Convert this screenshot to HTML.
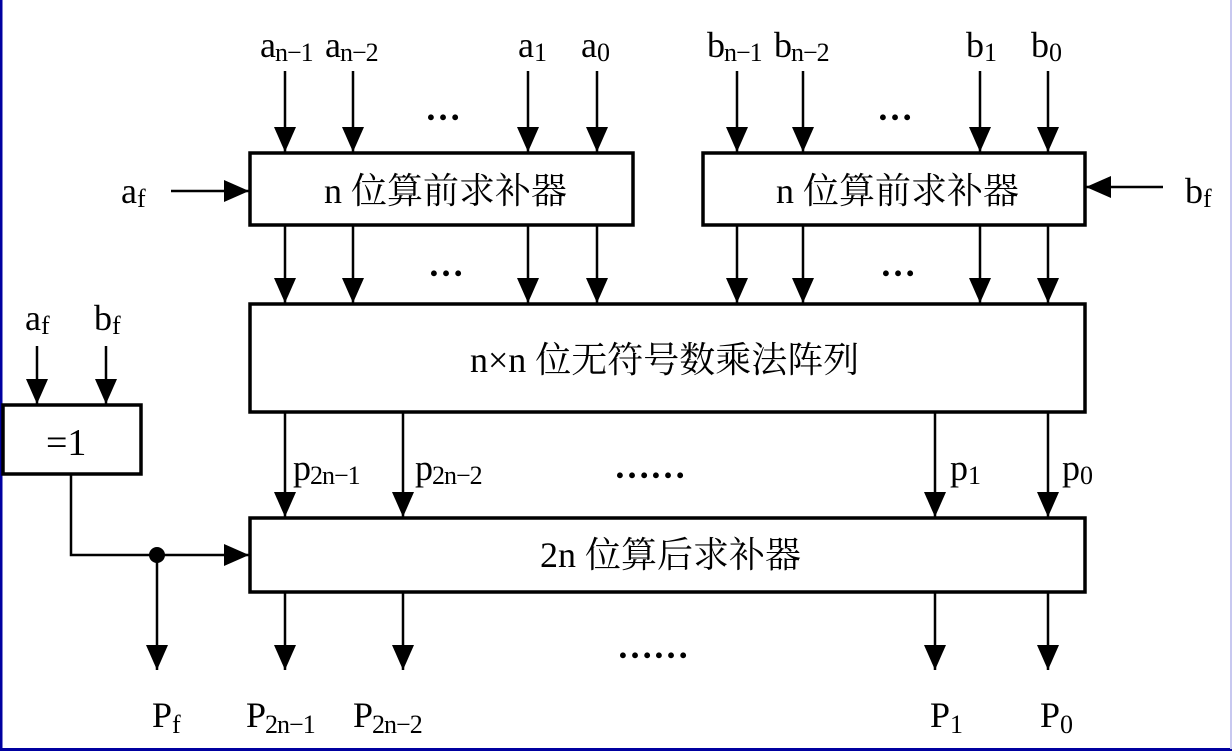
<!DOCTYPE html>
<html><head><meta charset="utf-8"><style>
html,body{margin:0;padding:0;background:#fff}
svg{display:block}
text{font-family:"Liberation Serif","Noto Serif CJK SC",serif;fill:#000}
</style></head><body>
<svg width="1232" height="751" viewBox="0 0 1232 751" xmlns="http://www.w3.org/2000/svg">
<defs>
<marker id="ar" markerUnits="userSpaceOnUse" markerWidth="26" markerHeight="24" refX="25" refY="11" orient="auto">
<path d="M0,0 L25,11 L0,22 Z" fill="#000"/>
</marker>
</defs>
<rect x="0" y="0" width="1232" height="751" fill="#fff"/>
<line x1="1" y1="0" x2="1" y2="751" stroke="#0000a0" stroke-width="3"/>
<line x1="0" y1="749.5" x2="1232" y2="749.5" stroke="#0000a0" stroke-width="3"/>
<line x1="1231" y1="0" x2="1231" y2="749" stroke="#c8c8f0" stroke-width="2"/>

<g stroke="#000" stroke-width="3.5" fill="none">
<rect x="250" y="153" width="383" height="72"/>
<rect x="703" y="153" width="382" height="72"/>
<rect x="250" y="304" width="835" height="108"/>
<rect x="250" y="518" width="835" height="74"/>
<rect x="3" y="405" width="138" height="69"/>
</g>
<g stroke="#000" stroke-width="2.5" marker-end="url(#ar)">
<line x1="285" y1="71" x2="285" y2="152"/>
<line x1="353" y1="71" x2="353" y2="152"/>
<line x1="528" y1="71" x2="528" y2="152"/>
<line x1="597" y1="71" x2="597" y2="152"/>
<line x1="737" y1="71" x2="737" y2="152"/>
<line x1="803" y1="71" x2="803" y2="152"/>
<line x1="980" y1="71" x2="980" y2="152"/>
<line x1="1048" y1="71" x2="1048" y2="152"/>
<line x1="285" y1="226" x2="285" y2="303"/>
<line x1="353" y1="226" x2="353" y2="303"/>
<line x1="528" y1="226" x2="528" y2="303"/>
<line x1="597" y1="226" x2="597" y2="303"/>
<line x1="737" y1="226" x2="737" y2="303"/>
<line x1="803" y1="226" x2="803" y2="303"/>
<line x1="980" y1="226" x2="980" y2="303"/>
<line x1="1048" y1="226" x2="1048" y2="303"/>
<line x1="171" y1="191" x2="249" y2="191"/>
<line x1="1163" y1="187" x2="1086" y2="187"/>
<line x1="37" y1="346" x2="37" y2="404"/>
<line x1="106" y1="346" x2="106" y2="404"/>
<line x1="285" y1="413" x2="285" y2="517"/>
<line x1="403" y1="413" x2="403" y2="517"/>
<line x1="935" y1="413" x2="935" y2="517"/>
<line x1="1048" y1="413" x2="1048" y2="517"/>
<line x1="285" y1="593" x2="285" y2="670"/>
<line x1="403" y1="593" x2="403" y2="670"/>
<line x1="935" y1="593" x2="935" y2="670"/>
<line x1="1048" y1="593" x2="1048" y2="670"/>
<line x1="157" y1="555" x2="157" y2="670"/>
<polyline points="71,475 71,555 249,555" fill="none"/>
</g>
<circle cx="157" cy="555" r="8" fill="#000"/>

<g font-size="36">
<text x="260" y="57" letter-spacing="-1">a<tspan font-size="26" dy="4">n−1</tspan></text>
<text x="325" y="57" letter-spacing="-1">a<tspan font-size="26" dy="4">n−2</tspan></text>
<text x="518" y="57">a<tspan font-size="26" dy="4">1</tspan></text>
<text x="581" y="57">a<tspan font-size="26" dy="4">0</tspan></text>
<text x="707" y="57" letter-spacing="-1">b<tspan font-size="26" dy="4">n−1</tspan></text>
<text x="774" y="57" letter-spacing="-1">b<tspan font-size="26" dy="4">n−2</tspan></text>
<text x="966" y="57">b<tspan font-size="26" dy="4">1</tspan></text>
<text x="1031" y="57">b<tspan font-size="26" dy="4">0</tspan></text>
<text x="121" y="203">a<tspan font-size="26" dy="4">f</tspan></text>
<text x="1185" y="203">b<tspan font-size="26" dy="4">f</tspan></text>
<text x="25" y="330">a<tspan font-size="26" dy="4">f</tspan></text>
<text x="94" y="330">b<tspan font-size="26" dy="4">f</tspan></text>
<text x="293" y="480" letter-spacing="-1">p<tspan font-size="26" dy="4">2n−1</tspan></text>
<text x="415" y="480" letter-spacing="-1">p<tspan font-size="26" dy="4">2n−2</tspan></text>
<text x="950" y="480">p<tspan font-size="26" dy="4">1</tspan></text>
<text x="1062" y="480">p<tspan font-size="26" dy="4">0</tspan></text>
<text x="152" y="727">P<tspan font-size="26" dy="6">f</tspan></text>
<text x="246" y="727" letter-spacing="-1">P<tspan font-size="26" dy="6">2n−1</tspan></text>
<text x="353" y="727" letter-spacing="-1">P<tspan font-size="26" dy="6">2n−2</tspan></text>
<text x="930" y="727">P<tspan font-size="26" dy="6">1</tspan></text>
<text x="1040" y="727">P<tspan font-size="26" dy="6">0</tspan></text>
<text x="46" y="455" font-size="38">=1</text>
<text x="324" y="203">n 位算前求补器</text>
<text x="776" y="203">n 位算前求补器</text>
<text x="470" y="372">n×n 位无符号数乘法阵列</text>
<text x="540" y="567">2n 位算后求补器</text>
<text x="425" y="120" font-weight="bold">…</text>
<text x="877" y="120" font-weight="bold">…</text>
<text x="428" y="276" font-weight="bold">…</text>
<text x="880" y="276" font-weight="bold">…</text>
<text x="614" y="478" font-weight="bold">……</text>
<text x="617" y="658" font-weight="bold">……</text>
</g>
</svg>
</body></html>
